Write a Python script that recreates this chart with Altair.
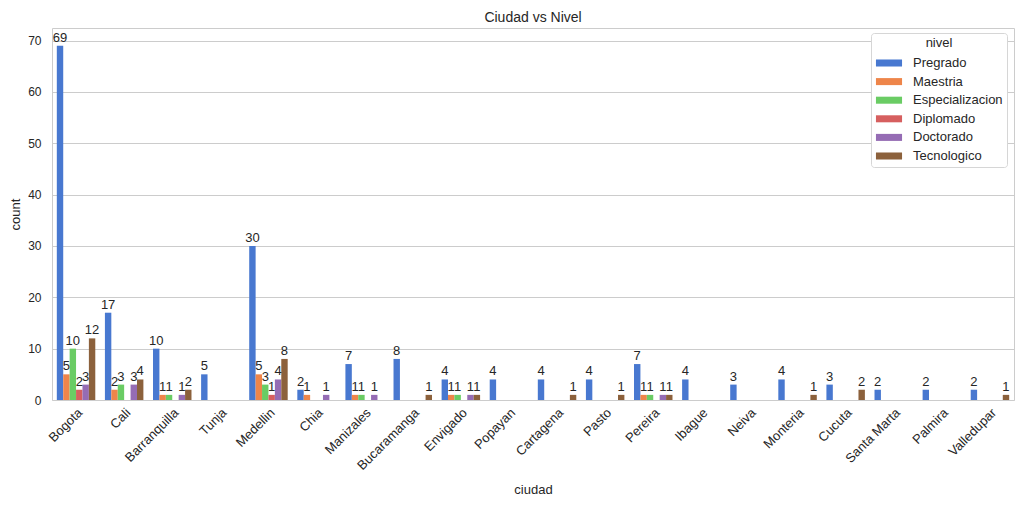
import altair as alt
import pandas as pd

cities = ["Bogota", "Cali", "Barranquilla", "Tunja", "Medellin", "Chia", "Manizales",
          "Bucaramanga", "Envigado", "Popayan", "Cartagena", "Pasto", "Pereira", "Ibague",
          "Neiva", "Monteria", "Cucuta", "Santa Marta", "Palmira", "Valledupar"]
levels = ["Pregrado", "Maestria", "Especializacion", "Diplomado", "Doctorado", "Tecnologico"]
colors = ["#4878d0", "#ee854a", "#6acc64", "#d65f5f", "#956cb4", "#8c613c"]

pregrado = [69, 17, 10, 5, 30, 2, 7, 8, 4, 4, 4, 4, 7, 4, 3, 4, 3, 2, 2, 2]
maestria = [5, 2, 1, 0, 5, 1, 1, 0, 1, 0, 0, 0, 1, 0, 0, 0, 0, 0, 0, 0]
especializacion = [10, 3, 1, 0, 3, 0, 1, 0, 1, 0, 0, 0, 1, 0, 0, 0, 0, 0, 0, 0]
diplomado = [2, 0, 0, 0, 1, 0, 0, 0, 0, 0, 0, 0, 0, 0, 0, 0, 0, 0, 0, 0]
doctorado = [3, 3, 1, 0, 4, 1, 1, 0, 1, 0, 0, 0, 1, 0, 0, 0, 0, 0, 0, 0]
tecnologico = [12, 4, 2, 0, 8, 0, 0, 1, 1, 0, 1, 1, 1, 0, 0, 1, 2, 0, 0, 1]

series = [pregrado, maestria, especializacion, diplomado, doctorado, tecnologico]
rows = []
for lvl, vals in zip(levels, series):
    for c, v in zip(cities, vals):
        rows.append({"ciudad": c, "nivel": lvl, "count": v})
df = pd.DataFrame(rows)

FONT = "Liberation Sans"
TXT = "#262626"

x = alt.X("ciudad:N", sort=cities,
          scale=alt.Scale(domain=cities, paddingInner=0.2, paddingOuter=0.1),
          axis=alt.Axis(title="ciudad", labelAngle=315, labelAlign="right",
                        labelBaseline="top", labelPadding=6, ticks=False, domain=False,
                        grid=False, labelFontSize=13, titleFontSize=13,
                        titleFontWeight="normal", titlePadding=11,
                        labelColor=TXT, titleColor=TXT))
xo = alt.XOffset("nivel:N", sort=levels,
                 scale=alt.Scale(domain=levels, paddingInner=0, paddingOuter=0))
y = alt.Y("count:Q",
          scale=alt.Scale(domain=[0, 72.45], nice=False, zero=True),
          axis=alt.Axis(title="count", values=[0, 10, 20, 30, 40, 50, 60, 70],
                        ticks=False, domain=False, grid=True, gridColor="#cccccc",
                        gridWidth=1, labelFontSize=12, titleFontSize=13,
                        titleFontWeight="normal", labelPadding=11, titlePadding=5,
                        labelColor=TXT, titleColor=TXT))
color = alt.Color("nivel:N", sort=levels,
                  scale=alt.Scale(domain=levels, range=colors),
                  legend=alt.Legend(title="nivel", orient="none", legendX=819, legendY=5,
                                    fillColor="white", strokeColor="#d6d6d6",
                                    cornerRadius=3, padding=4, titleAnchor="middle",
                                    titleFontSize=13, titleFontWeight="normal",
                                    titleColor=TXT, labelColor=TXT, labelFontSize=13,
                                    symbolType="M-1.45,-0.39H1.45V0.39H-1.45Z",
                                    symbolSize=324, symbolOffset=5,
                                    symbolStrokeWidth=0, symbolOpacity=1,
                                    rowPadding=2.6, labelOffset=15, titlePadding=4))

bars = alt.Chart(df).mark_bar(stroke=None, opacity=1).encode(
    x=x, xOffset=xo, y=y, color=color)

labels = alt.Chart(df).transform_filter(alt.datum["count"] > 0).mark_text(
    baseline="alphabetic", dy=-4, fontSize=13, color=TXT, font=FONT
).encode(x=x, xOffset=xo, y=y, text="count:Q")

chart = alt.layer(bars, labels).properties(
    width=962, height=372,
    title=alt.TitleParams("Ciudad vs Nivel", fontSize=14, fontWeight="normal",
                          color=TXT, offset=3, font=FONT),
    autosize=alt.AutoSizeParams(type="none"),
    padding={"left": 44, "top": 20, "right": 2, "bottom": 100},
).configure(font=FONT).configure_view(stroke="#cccccc", strokeWidth=1)

chart.save("out.html", embed_options={"renderer": "svg", "actions": False})
